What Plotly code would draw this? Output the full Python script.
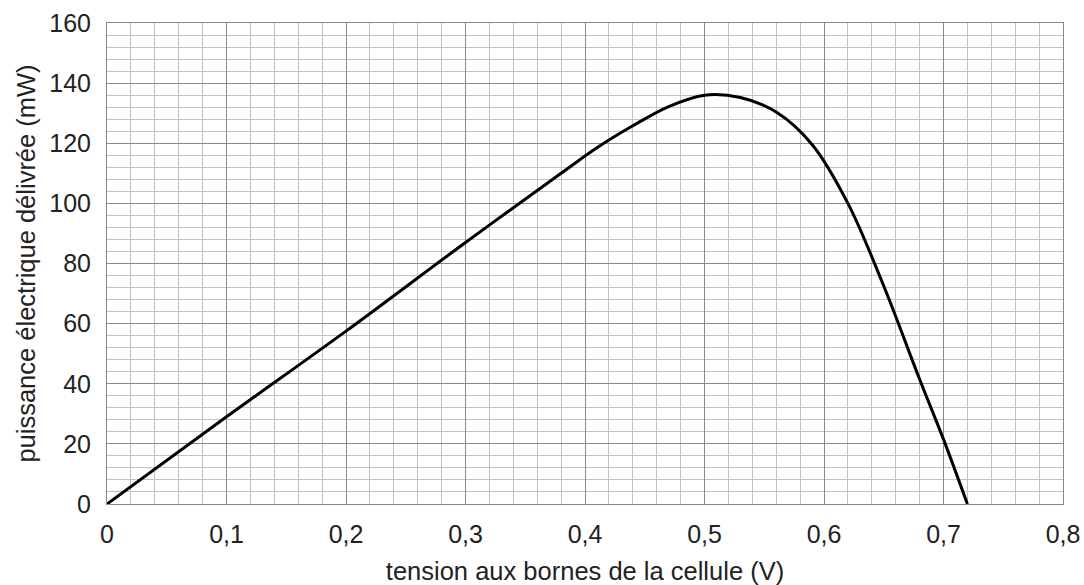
import plotly.graph_objects as go

tension_V = [0.0, 0.1, 0.2, 0.3, 0.38, 0.41, 0.44, 0.47, 0.5, 0.53, 0.56,
             0.59, 0.62, 0.65, 0.68, 0.7, 0.72]
puissance_mW = [0.0, 29.0, 57.5, 87.0, 110.0, 118.5, 125.8, 132.2, 136.0, 135.2, 130.4,
                119.6, 100.0, 72.5, 41.5, 21.5, 0.0]

x_ticks = [0, 0.1, 0.2, 0.3, 0.4, 0.5, 0.6, 0.7, 0.8]
x_tick_labels = ["0", "0,1", "0,2", "0,3", "0,4", "0,5", "0,6", "0,7", "0,8"]
y_ticks = [0, 20, 40, 60, 80, 100, 120, 140, 160]

major = "#8a8a8a"
minor_c = "#c2c2c2"
font = "Liberation Sans, Arial, sans-serif"

fig = go.Figure()
fig.add_trace(go.Scatter(
    x=tension_V, y=puissance_mW, mode="lines",
    line=dict(color="black", width=3, shape="spline", smoothing=1.0),
    hoverinfo="skip", showlegend=False,
))

fig.update_layout(
    width=1084, height=585,
    margin=dict(l=107, r=21, t=23, b=81),
    paper_bgcolor="white", plot_bgcolor="white",
    font=dict(family=font, size=25, color="#222"),
    xaxis=dict(
        range=[0, 0.8], tickvals=x_ticks, ticktext=x_tick_labels, automargin=False,
        showgrid=True, gridcolor=major, gridwidth=1,
        minor=dict(dtick=0.02, showgrid=True, gridcolor=minor_c, gridwidth=1),
        zeroline=False, showline=True, mirror=True, linecolor=major, linewidth=1,
        ticks="", ticklen=0, tickfont=dict(size=25), ticklabelstandoff=8,
        title=dict(text="tension aux bornes de la cellule (V)", font=dict(size=25.5), standoff=15),
    ),
    yaxis=dict(
        range=[0, 160], tickvals=y_ticks, automargin=False,
        showgrid=True, gridcolor=major, gridwidth=1,
        minor=dict(dtick=4, showgrid=True, gridcolor=minor_c, gridwidth=1),
        zeroline=False, showline=True, mirror=True, linecolor=major, linewidth=1,
        ticks="", ticklen=0, tickfont=dict(size=25), ticklabelstandoff=10,
        title=dict(text="puissance électrique délivrée (mW)", font=dict(size=25.5), standoff=6),
    ),
)

fig.write_html("out.html")
